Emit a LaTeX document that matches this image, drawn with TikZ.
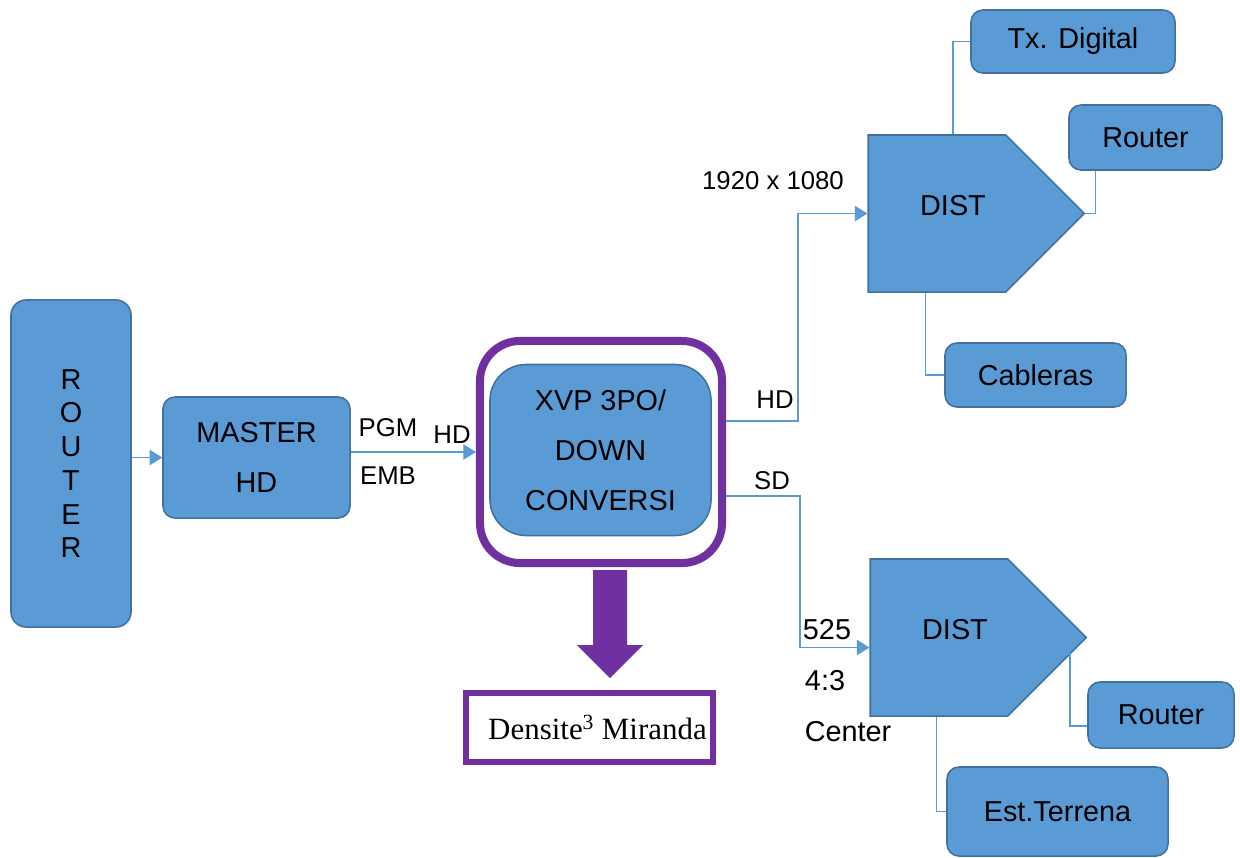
\documentclass[tikz,border=0pt]{standalone}
\usepackage{fontspec}
\setmainfont{Liberation Sans}
\newfontfamily\densfont{Liberation Serif}
\usetikzlibrary{arrows.meta, shapes.symbols, calc}
\definecolor{boxblue}{HTML}{5B9BD5}
\definecolor{boxedge}{HTML}{41719C}
\definecolor{convpurple}{HTML}{7030A0}

\begin{document}
\begin{tikzpicture}[x=0.025cm, y=-0.025cm,
  box/.style={draw=boxedge, fill=boxblue, line width=1.1pt, rounded corners=0.3cm, inner sep=0pt, font=\fontsize{20.5}{24}\selectfont},
  dist/.style={signal, signal to=east, signal pointer angle=90, draw=boxedge, fill=boxblue, line width=1.1pt, inner sep=0pt, minimum width=5.4cm, minimum height=3.925cm},
  tag/.style={inner sep=0pt, font=\fontsize{18.3}{20}\selectfont},
  bigtag/.style={inner sep=0pt, font=\fontsize{20.5}{24}\selectfont},
  link/.style={draw=boxblue, line width=0.8pt},
  feed/.style={link, -{Triangle[length=9pt, width=11pt]}}]
  \useasboundingbox (0,0) rectangle (1240,857);

  % Source and master
  \node[box, rounded corners=0.38cm, minimum width=3cm, minimum height=8.175cm, align=center] (router) at (71,463.5) {R\\O\\U\\T\\E\\R};
  \node[box, minimum width=4.675cm, minimum height=3.025cm, align=center, font=\fontsize{20.5}{35.6}\selectfont] (master) at (256.5,457.5) {MASTER\\HD};

  % Converter in purple frame
  \node[draw=convpurple, line width=5.7pt, rounded corners=1cm, minimum width=6.05cm, minimum height=5.55cm] (frame) at (601,452) {};
  \node[box, rounded corners=0.9cm, minimum width=5.525cm, minimum height=4.275cm, align=center, font=\fontsize{20.5}{35.6}\selectfont] (xvp) at (600.5,450) {XVP 3PO/\\DOWN\\CONVERSI};
  \fill[convpurple] (593,570) -- (627,570) -- (627,645) -- (643,645) -- (610,678) -- (577,645) -- (593,645) -- cycle;
  \node[draw=convpurple, line width=4.3pt, minimum width=6.175cm, minimum height=1.725cm, font=\densfont\fontsize{22}{24}\selectfont] (dens) at (589.5,727.5) {\hspace{0.4cm}Densite\textsuperscript{3} Miranda};

  % Distributors
  \node[dist] (dist1) at (937,213.5) {};
  \node[bigtag] (dist1txt) at (953,206) {DIST};
  \node[dist] (dist2) at (939,637.5) {};
  \node[bigtag] (dist2txt) at (955,630) {DIST};

  % Outputs
  \node[box, minimum width=5.1cm, minimum height=1.575cm] (txd) at (1073,41.5) {Tx. Digital};
  \node[box, minimum width=3.825cm, minimum height=1.625cm] (rtr1) at (1145.5,137.5) {Router};
  \node[box, minimum width=4.525cm, minimum height=1.6cm] (cab) at (1035.5,375) {Cableras};
  \node[box, minimum width=3.65cm, minimum height=1.65cm] (rtr2) at (1161,715) {Router};
  \node[box, minimum width=5.525cm, minimum height=2.225cm] (est) at (1057.5,811.5) {Est.Terrena};

  % Signal labels
  \node[tag] (pgm) at (388,428) {PGM};
  \node[tag] (emb) at (388,476) {EMB};
  \node[tag] (hdin) at (452,435) {HD};
  \node[tag] (hdout) at (775,400) {HD};
  \node[tag] (res) at (773,181) {1920 x 1080};
  \node[tag] (sdout) at (772,481) {SD};
  \node[bigtag] (lines) at (827,630) {525};
  \node[bigtag] (aspect) at (825,681) {4:3};
  \node[bigtag] (center) at (848,732) {Center};

  % Connectors
  \coordinate (hdjoin) at (798,421);
  \coordinate (sdjoin) at (800,496);
  \coordinate (r2tap) at (1070,653);
  \draw[feed] (router.east |- master) -- (master.west);
  \draw[feed] (master.east |- frame) -- (frame.west);
  \draw[feed] (frame.east |- hdjoin) -| (dist1.west -| hdjoin) -- (dist1.west);
  \draw[feed] (frame.east |- sdjoin) -| ([yshift=-0.25cm]dist2.west -| sdjoin) -- ([yshift=-0.25cm]dist2.west);
  \draw[link] (dist1txt |- dist1.north) |- (txd.west);
  \draw[link] (dist1.east) -| ([xshift=-1.26cm]rtr1.south);
  \draw[link] ([xshift=1.45cm]dist1.west |- dist1.south) |- (cab.west);
  \draw[link] (r2tap) |- ([yshift=-0.275cm]rtr2.west);
  \draw[link] ([xshift=1.675cm]dist2.west |- dist2.south) |- (est.west);
\end{tikzpicture}
\end{document}
